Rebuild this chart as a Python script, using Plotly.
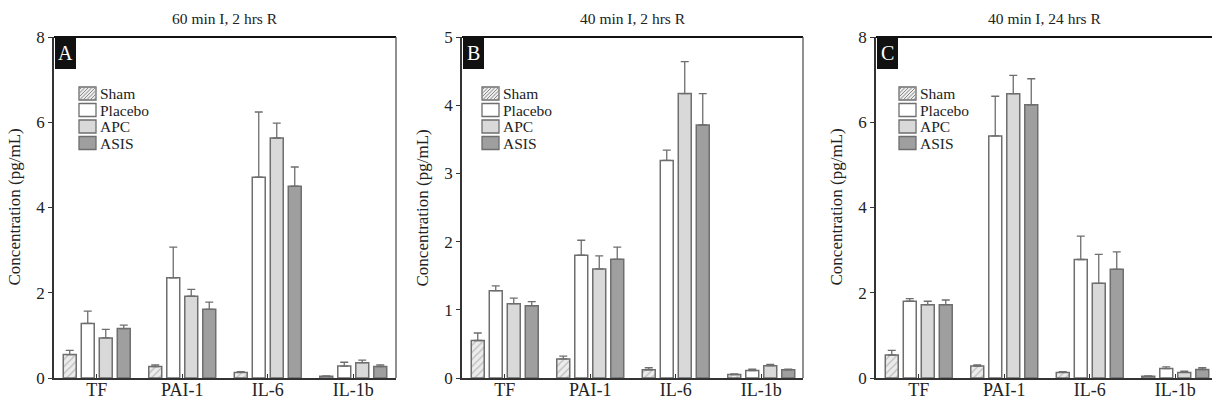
import plotly.graph_objects as go

# ---------------- data ----------------
categories = ["TF", "PAI-1", "IL-6", "IL-1b"]
groups = ["Sham", "Placebo", "APC", "ASIS"]
panel_titles = ["60 min I, 2 hrs R", "40 min I, 2 hrs R", "40 min I, 24 hrs R"]
panel_letters = ["A", "B", "C"]
y_max = [8, 5, 8]
y_dtick = [2, 1, 2]

# Panel A (mean, SEM)
a_sham = [0.55, 0.27, 0.13, 0.04]
a_sham_sem = [0.10, 0.04, 0.02, 0.01]
a_placebo = [1.28, 2.35, 4.71, 0.28]
a_placebo_sem = [0.29, 0.72, 1.53, 0.09]
a_apc = [0.94, 1.92, 5.63, 0.36]
a_apc_sem = [0.20, 0.16, 0.35, 0.06]
a_asis = [1.16, 1.61, 4.50, 0.27]
a_asis_sem = [0.08, 0.17, 0.45, 0.04]

# Panel B
b_sham = [0.55, 0.28, 0.12, 0.05]
b_sham_sem = [0.11, 0.04, 0.03, 0.01]
b_placebo = [1.28, 1.80, 3.19, 0.11]
b_placebo_sem = [0.07, 0.22, 0.15, 0.02]
b_apc = [1.09, 1.60, 4.17, 0.18]
b_apc_sem = [0.08, 0.19, 0.47, 0.02]
b_asis = [1.06, 1.74, 3.71, 0.12]
b_asis_sem = [0.06, 0.18, 0.46, 0.01]

# Panel C
c_sham = [0.54, 0.28, 0.13, 0.04]
c_sham_sem = [0.11, 0.03, 0.02, 0.01]
c_placebo = [1.80, 5.68, 2.78, 0.22]
c_placebo_sem = [0.06, 0.93, 0.55, 0.04]
c_apc = [1.72, 6.67, 2.22, 0.13]
c_apc_sem = [0.08, 0.43, 0.68, 0.03]
c_asis = [1.72, 6.41, 2.55, 0.20]
c_asis_sem = [0.11, 0.61, 0.41, 0.04]

panels = [
    [(a_sham, a_sham_sem), (a_placebo, a_placebo_sem), (a_apc, a_apc_sem), (a_asis, a_asis_sem)],
    [(b_sham, b_sham_sem), (b_placebo, b_placebo_sem), (b_apc, b_apc_sem), (b_asis, b_asis_sem)],
    [(c_sham, c_sham_sem), (c_placebo, c_placebo_sem), (c_apc, c_apc_sem), (c_asis, c_asis_sem)],
]

# ---------------- style ----------------
FONT = "Liberation Serif"
W, H = 1212, 406
ML, MR, MT, MB = 54, 0, 37, 28
PW = W - ML - MR
PH = H - MT - MB
UNIT = 85.5  # px per category
panel_px = [(0, 342), (408, 749), (822, 1158)]
legend_dx = [25, 20, 23]

fill_colors = ["#e6e6e6", "#ffffff", "#d9d9d9", "#9f9f9f"]
edge = "#6e6e6e"
axis_col = "#333333"

fig = go.Figure()

for p in range(3):
    sfx = "" if p == 0 else str(p + 1)
    xa, ya = "x" + sfx, "y" + sfx
    for g in range(4):
        vals, sem = panels[p][g]
        marker = dict(color=fill_colors[g], line=dict(color=edge, width=1.5))
        if g == 0:
            marker["pattern"] = dict(shape="/", bgcolor="#ececec", fgcolor="#8a8a8a",
                                     size=5, solidity=0.25)
        fig.add_trace(go.Bar(
            x=categories, y=vals, name=groups[g], xaxis=xa, yaxis=ya,
            marker=marker, showlegend=False,
            error_y=dict(type="data", symmetric=False, array=sem,
                         arrayminus=[0] * len(sem), color=edge, thickness=1.3, width=4),
        ))

layout = dict(
    width=W, height=H, margin=dict(l=ML, r=MR, t=MT, b=MB),
    paper_bgcolor="white", plot_bgcolor="white",
    barmode="group", bargap=0.158, bargroupgap=0.28,
    font=dict(family=FONT, color="#222222", size=17),
    showlegend=False,
)
shapes = []
annotations = []

for p in range(3):
    sfx = "" if p == 0 else str(p + 1)
    x0p, x1p = panel_px[p]
    wpx = x1p - x0p
    layout["xaxis" + sfx] = dict(
        domain=[x0p / PW, x1p / PW], anchor="y" + sfx,
        range=[-0.5, -0.5 + wpx / UNIT],
        type="category",
        showline=True, linecolor=axis_col, linewidth=1.5,
        ticks="inside", ticklen=4, tickcolor=axis_col, tickwidth=1,
        ticklabelstandoff=-5,
        tickfont=dict(family=FONT, size=18, color="#222222"),
        showgrid=False, zeroline=False, fixedrange=True,
    )
    layout["yaxis" + sfx] = dict(
        domain=[0, 1], anchor="x" + sfx,
        range=[0, y_max[p]], dtick=y_dtick[p], tick0=0,
        showline=True, linecolor=axis_col, linewidth=1.5,
        ticks="outside", ticklen=4, tickcolor=axis_col, tickwidth=1,
        tickfont=dict(family=FONT, size=17, color="#222222"),
        showgrid=False, zeroline=False, fixedrange=True,
    )
    xd, yd = "x" + sfx + " domain", "y" + sfx + " domain"

    def fx(px, wpx=wpx):
        return px / wpx

    def fy(py):
        return 1 - py / PH

    # top border
    shapes.append(dict(type="line", xref=xd, yref=yd, x0=0, x1=1, y0=1, y1=1,
                       line=dict(color="#111111", width=2)))
    # right border (not visible for cut-off panel C)
    if p < 2:
        shapes.append(dict(type="line", xref=xd, yref=yd, x0=1, x1=1, y0=0, y1=1,
                           line=dict(color="#555555", width=1.3)))
    # panel letter box
    shapes.append(dict(type="rect", xref=xd, yref=yd, x0=fx(1), x1=fx(22), y0=fy(0), y1=fy(32),
                       fillcolor="#111111", line=dict(width=0)))
    annotations.append(dict(xref=xd, yref=yd, x=fx(11.5), y=fy(16), text=panel_letters[p],
                            showarrow=False, font=dict(family=FONT, size=20, color="white"),
                            xanchor="center", yanchor="middle"))
    # title
    annotations.append(dict(xref=xd, yref="paper", x=0.5, y=1 + (MT - 18) / PH,
                            text=panel_titles[p], showarrow=False,
                            font=dict(family=FONT, size=15.5, color="#222222"),
                            xanchor="center", yanchor="middle"))
    # y-axis title
    annotations.append(dict(xref=xd, yref=yd, x=0, y=0.5, xshift=-40,
                            text="Concentration (pg/mL)", textangle=-90, showarrow=False,
                            font=dict(family=FONT, size=17, color="#222222"),
                            xanchor="center", yanchor="middle"))
    # custom legend
    lx0 = legend_dx[p]
    lx1 = lx0 + 17
    for g in range(4):
        ry0 = 50 + g * 16.5
        ry1 = ry0 + 13
        shapes.append(dict(type="rect", xref=xd, yref=yd, x0=fx(lx0), x1=fx(lx1),
                           y0=fy(ry1), y1=fy(ry0),
                           fillcolor="#ececec" if g == 0 else fill_colors[g],
                           line=dict(color=edge, width=1.3)))
        if g == 0:
            c = lx0 + ry0 + 3
            while c < lx1 + ry1:
                pxa = max(lx0, c - ry1)
                pxb = min(lx1, c - ry0)
                if pxb > pxa:
                    shapes.append(dict(type="line", xref=xd, yref=yd,
                                       x0=fx(pxa), y0=fy(c - pxa), x1=fx(pxb), y1=fy(c - pxb),
                                       line=dict(color="#8a8a8a", width=1)))
                c += 3.5
        annotations.append(dict(xref=xd, yref=yd, x=fx(lx1 + 1.5), y=fy((ry0 + ry1) / 2),
                                text=groups[g], showarrow=False, height=15,
                                font=dict(family=FONT, size=15.5, color="#222222"),
                                xanchor="left", yanchor="middle"))

layout["shapes"] = shapes
layout["annotations"] = annotations
fig.update_layout(**layout)
fig.write_html("out.html", config={"displayModeBar": False},
               post_script="document.body.style.margin='0';")
